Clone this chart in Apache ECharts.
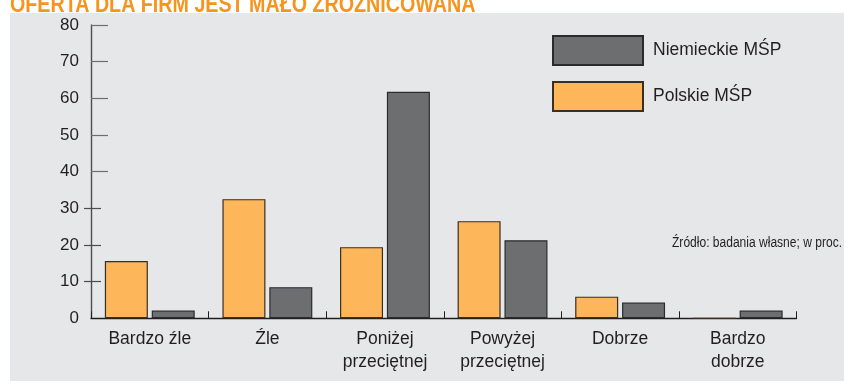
<!DOCTYPE html>
<html>
<head>
<meta charset="utf-8">
<script src="https://cdn.jsdelivr.net/npm/echarts@6/dist/echarts.min.js"></script>
<style>
  html, body { margin: 0; padding: 0; background: #ffffff; }
  #chart { width: 844px; height: 381px; }
</style>
</head>
<body>
<div id="chart"></div>
<script>
// Ocena oferty bankowej dla MŚP (w proc.)
const categories = ['Bardzo źle', 'Źle', 'Poniżej\nprzeciętnej', 'Powyżej\nprzeciętnej', 'Dobrze', 'Bardzo\ndobrze'];
const polskie = [15.6, 32.5, 19.4, 26.5, 5.9, 0];
const niemieckie = [2.1, 8.5, 61.8, 21.3, 4.3, 2.1];
const seriesNames = ['Polskie MŚP', 'Niemieckie MŚP'];
const yMax = 80;
const yStep = 10;
const longTickRange = [40, 80];   // ticks pointing into the plot
const shortTickRange = [10, 30];  // ticks crossing the axis line

const titleText = 'OFERTA DLA FIRM JEST MAŁO ZRÓŻNICOWANA';
const sourceText = 'Źródło: badania własne; w proc.';

const FONT = '"Liberation Sans", Arial, Helvetica, sans-serif';
const INK = '#231f20';
const AXIS = '#4d4d4f';

const W = 844, H = 381;
const plot = { left: 91, right: 47.5, top: 25, bottom: 62.7 };
const plotH = H - plot.top - plot.bottom;

// a grid that spans only the [lo, hi] part of the value range
function subGrid(lo, hi) {
  const yOf = v => plot.top + plotH * (1 - v / yMax);
  return { left: plot.left, right: plot.right, top: yOf(hi), bottom: H - yOf(lo), containLabel: false };
}

const chart = echarts.init(document.getElementById('chart'), null, { renderer: 'canvas' });

chart.setOption({
  backgroundColor: '#ffffff',
  animation: false,
  graphic: [
    {
      type: 'rect', z: -5, silent: true,
      shape: { x: 10, y: 13, width: 834, height: 368 },
      style: { fill: '#e6e7e8' }
    },
    {
      // condensed headline, its upper part runs off the top edge
      type: 'text', z: -10, silent: true,
      x: 10, y: 17, scaleX: 0.82,
      style: {
        x: 0, y: 0, text: titleText,
        fill: '#f7941d', font: 'bold 24px ' + FONT,
        textAlign: 'left', textVerticalAlign: 'bottom'
      }
    },
    {
      type: 'text', silent: true,
      x: 842, y: 243, scaleX: 0.86,
      style: {
        x: 0, y: 0, text: sourceText,
        fill: INK, font: '14px ' + FONT,
        textAlign: 'right', textVerticalAlign: 'middle'
      }
    }
  ],
  legend: {
    orient: 'vertical',
    left: 552, top: 35, padding: 0,
    itemWidth: 90, itemHeight: 29, itemGap: 15,
    icon: 'rect',
    data: [seriesNames[1], seriesNames[0]],
    textStyle: { fontFamily: FONT, fontSize: 17.5, color: INK, padding: [8, 0, 0, 5] }
  },
  grid: [
    Object.assign({ containLabel: false }, plot),
    subGrid(longTickRange[0], longTickRange[1]),
    subGrid(shortTickRange[0], shortTickRange[1])
  ],
  xAxis: [
    {
      type: 'category', gridIndex: 0,
      data: categories,
      axisLine: { lineStyle: { color: INK, width: 1.4 } },
      axisTick: { show: true, inside: true, length: 7, lineStyle: { color: INK, width: 1 } },
      axisLabel: {
        interval: 0, margin: 9,
        fontFamily: FONT, fontSize: 17.5, lineHeight: 23, color: INK
      }
    },
    { type: 'category', gridIndex: 1, data: categories, show: false },
    { type: 'category', gridIndex: 2, data: categories, show: false }
  ],
  yAxis: [
    {
      type: 'value', gridIndex: 0, min: 0, max: yMax, interval: yStep,
      splitLine: { show: false },
      axisLine: { show: true, lineStyle: { color: AXIS, width: 1.4 } },
      axisTick: { show: false },
      axisLabel: { margin: 12, fontFamily: FONT, fontSize: 17, color: INK }
    },
    {
      type: 'value', gridIndex: 1, min: longTickRange[0], max: longTickRange[1], interval: yStep,
      splitLine: { show: false }, axisLine: { show: false }, axisLabel: { show: false },
      axisTick: { show: true, inside: true, length: 17, lineStyle: { color: '#6d6e71', width: 1.2 } }
    },
    {
      type: 'value', gridIndex: 2, min: shortTickRange[0], max: shortTickRange[1], interval: yStep,
      offset: -10,
      splitLine: { show: false }, axisLine: { show: false }, axisLabel: { show: false },
      axisTick: { show: true, inside: false, length: 17, lineStyle: { color: AXIS, width: 1.2 } }
    }
  ],
  series: [
    {
      name: seriesNames[0], type: 'bar', data: polskie,
      xAxisIndex: 0, yAxisIndex: 0,
      barWidth: 43, barGap: '9%',
      itemStyle: { color: '#fdb65a', borderColor: '#3b2e22', borderWidth: 1.2 }
    },
    {
      name: seriesNames[1], type: 'bar', data: niemieckie,
      xAxisIndex: 0, yAxisIndex: 0,
      barWidth: 43, barGap: '9%',
      itemStyle: { color: '#6d6e70', borderColor: '#2b2b2d', borderWidth: 1.2 }
    }
  ]
});
</script>
</body>
</html>
